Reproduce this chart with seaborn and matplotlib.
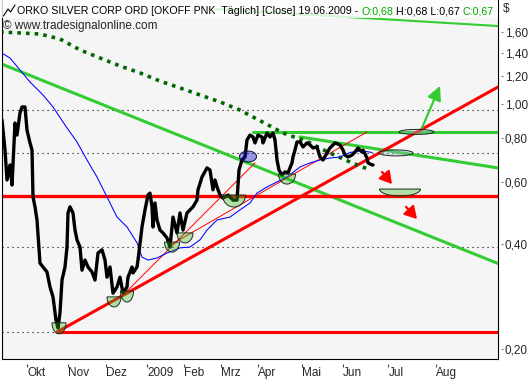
import numpy as np
import matplotlib
matplotlib.use("Agg")
import matplotlib.pyplot as plt
import matplotlib.transforms as mtransforms
from matplotlib.patches import Polygon, Rectangle
from matplotlib.ticker import FixedLocator, NullLocator, NullFormatter
from matplotlib.font_manager import FontProperties
import seaborn as sns

# daily close (chart day index, price in $)
close_day = [0, 1.5, 2.5, 4, 5, 6.5, 7.5, 9, 10, 11.5, 12.5, 14, 15, 15.5, 16.5, 17.5, 19, 20.5,
             22.5, 24, 25.5, 27, 28, 29, 30, 31.5, 32.5, 33, 34, 35.5, 36.5, 37.5, 39, 40, 41.5,
             43, 45, 46.5, 48, 50, 51.5, 52.5, 54, 55.5, 57.5, 59, 60.5, 62.5, 63, 65, 65.5,
             67.5, 68, 70, 71.5, 73, 74, 75, 75.5, 76.5, 77.5, 79, 80.5, 82.5, 84, 85.5, 87.5,
             89, 90.5, 92.5, 94, 95.5, 97.5, 98, 100, 102.5, 104, 105.5, 106.5, 107.5, 109,
             110.5, 113, 115.5, 117.5, 118.5, 120, 121.5, 122.5, 124, 125.5, 126.5, 128, 130,
             130.5, 132.5, 134, 135.5, 136.5, 137.5, 138.5, 140, 141.5, 143, 145, 145.5, 146.5,
             147.5, 149, 150.5, 152.5, 154, 155.5, 157.5, 159, 160.5, 162.5, 164, 166.5, 169,
             170.5, 171.5, 173, 175, 176.5, 178, 180, 180.5, 182.5, 183, 185, 185.5]
close_px = [0.900, 0.739, 0.607, 0.670, 0.587, 0.882, 0.815, 0.942, 0.980, 0.980, 0.842, 0.774,
            0.739, 0.543, 0.509, 0.467, 0.352, 0.343, 0.332, 0.301, 0.282, 0.242, 0.230, 0.254,
            0.315, 0.343, 0.391, 0.489, 0.509, 0.489, 0.437, 0.410, 0.391, 0.336, 0.359, 0.343,
            0.332, 0.315, 0.376, 0.384, 0.359, 0.321, 0.343, 0.289, 0.301, 0.321, 0.289, 0.301,
            0.321, 0.343, 0.330, 0.343, 0.359, 0.446, 0.499, 0.550, 0.557, 0.509, 0.446, 0.522,
            0.467, 0.437, 0.429, 0.415, 0.391, 0.476, 0.429, 0.489, 0.437, 0.489, 0.499, 0.509,
            0.532, 0.569, 0.619, 0.657, 0.648, 0.569, 0.607, 0.580, 0.550, 0.539, 0.550, 0.532,
            0.532, 0.648, 0.692, 0.706, 0.789, 0.815, 0.805, 0.774, 0.815, 0.805, 0.774, 0.826,
            0.805, 0.826, 0.789, 0.692, 0.648, 0.627, 0.640, 0.636, 0.679, 0.706, 0.739, 0.779,
            0.779, 0.754, 0.774, 0.764, 0.749, 0.754, 0.706, 0.692, 0.725, 0.749, 0.774, 0.764,
            0.739, 0.715, 0.706, 0.715, 0.729, 0.749, 0.729, 0.739, 0.701, 0.679, 0.670, 0.670]

# moving average (thin blue)
ma_day = [-1, 4, 9, 14, 20.5, 25.5, 32.5, 37.5, 42.5, 47.5, 52.5, 57.5, 62.5, 67.5, 70, 73, 77.5,
          82.5, 89, 94, 99, 102.5, 107.5, 114, 119, 124, 127.5, 132.5, 142.5, 149, 154, 159, 164,
          169, 174, 179, 182.5, 185]
ma_px = [1.405, 1.351, 1.249, 1.154, 1.060, 0.980, 0.854, 0.779, 0.692, 0.619, 0.543, 0.476,
         0.446, 0.402, 0.366, 0.359, 0.364, 0.376, 0.389, 0.391, 0.410, 0.437, 0.467, 0.476,
         0.499, 0.522, 0.557, 0.580, 0.619, 0.661, 0.679, 0.692, 0.701, 0.706, 0.727, 0.734,
         0.731, 0.727]

# displaced average (dark green dots)
lag_day = [-1, 9, 19, 29, 39, 49, 59, 69, 79, 89, 99, 109, 119, 126.5, 134, 140.5, 149, 154,
           162.5, 170.5, 175, 183]
lag_px = [1.602, 1.592, 1.581, 1.530, 1.424, 1.351, 1.282, 1.225, 1.161, 1.110, 1.060, 1.013,
          0.960, 0.911, 0.865, 0.826, 0.794, 0.774, 0.731, 0.697, 0.679, 0.652]

# trend lines: ([day0, day1], [price0, price1])
top_green = ([106.5, 248], [1.862, 1.666])
long_green = ([-1, 248], [1.304, 0.351])
right_green = ([149, 248], [0.805, 0.657])
flat_green = ([125.5, 248], [0.832, 0.832])
rise_red = ([27.5, 248], [0.224, 1.117])
mid_red = ([0, 248], [0.546, 0.546])
low_red = ([27.5, 248], [0.224, 0.224])
thin_red_a = ([61.5, 126.5], [0.289, 0.679])
thin_red_b = ([84, 182.5], [0.396, 0.832])
dotted_levels = [0.960, 0.723, 0.392]
dotted_low = ([0, 27.5], [0.224, 0.224])

# marked lows (half ellipses), breakout marks, arrows
low_day = [28.5, 56, 62.5, 85, 91.5, 116, 142.5, 199]
low_px = [0.238, 0.282, 0.293, 0.404, 0.429, 0.550, 0.631, 0.572]
blue_mark = (123, 0.708)
flat_day = [207.25, 197]
flat_px = [0.832, 0.725]
green_arrow = ((210, 0.854), (219, 1.125))
red_arrows = [((190, 0.640), (195, 0.591)), ((202, 0.509), (207.5, 0.470))]

month_day = [12.5, 32.8, 52.2, 72.5, 91, 109.6, 128.2, 150.2, 170.5, 193.2, 216.9]
month_lbl = ["Okt", "Nov", "Dez", "2009", "Feb", "Mrz", "Apr", "Mai", "Jun", "Jul", "Aug"]
y_ticks = [0.2, 0.4, 0.6, 0.8, 1.0, 1.2, 1.4, 1.6]
y_lbl = ["0,20", "0,40", "0,60", "0,80", "1,00", "1,20", "1,40", "1,60"]

sns.set_style("white")
plt.rcParams['font.family'] = ['Liberation Sans', 'DejaVu Sans']
FS = 8.5

W, H = 530, 380
fig = plt.figure(figsize=(W / 100, H / 100), dpi=100)
ax = fig.add_axes([2 / W, 20.7 / H, 496 / W, 359.3 / H])
ax.set_facecolor('#f5f5f5')
ax.set_yscale('log')
ax.set_xlim(0, 248)
ax.set_ylim(0.1873, 1.976)

GREEN = '#33cc33'

# horizontal dotted levels
for lv in dotted_levels:
    ax.plot([0, 248], [lv, lv], color='black', lw=0.8, ls=(0, (1, 3.5)), zorder=1)
ax.plot(*dotted_low, color='black', lw=0.8, ls=(0, (1, 3.5)), zorder=1)

# trend lines
ax.plot(*top_green, color=GREEN, lw=1.5, zorder=2)
ax.plot(*long_green, color=GREEN, lw=2.2, zorder=2)
ax.plot(*right_green, color=GREEN, lw=2.2, zorder=2)
ax.plot(*flat_green, color=GREEN, lw=2.2, zorder=2)
ax.plot(*mid_red, color='red', lw=2.4, zorder=2)
ax.plot(*low_red, color='red', lw=2.2, zorder=2)
ax.plot(*rise_red, color='red', lw=2.2, zorder=2)
ax.plot(*thin_red_a, color='red', lw=0.7, zorder=2)
ax.plot(*thin_red_b, color='red', lw=0.7, zorder=2)

# averages and price
ax.plot(lag_day, lag_px, color='#006600', lw=2.6, ls=(0, (1, 1.4)), zorder=2.5)
sns.lineplot(x=ma_day, y=ma_px, ax=ax, color='blue', lw=0.75, estimator=None, zorder=3)
sns.lineplot(x=close_day, y=close_px, ax=ax, color='black', lw=2.4, estimator=None, zorder=3)


def blob(x, y, w, h, half, fc, ec='#1e2a1e'):
    if half:
        t = np.linspace(np.pi, 2 * np.pi, 40)
        pts = np.c_[w / 2 * np.cos(t), h * np.sin(t)]
    else:
        t = np.linspace(0, 2 * np.pi, 80)
        pts = np.c_[w / 2 * np.cos(t), h / 2 * np.sin(t)]
    trans = fig.dpi_scale_trans + mtransforms.ScaledTranslation(x, y, ax.transData)
    p = Polygon(pts / 100.0, closed=True, transform=trans, fc=fc, ec=ec, lw=0.7, zorder=4)
    ax.add_artist(p)


low_size = [(14, 11), (14, 10), (13, 11), (15, 10), (16, 10), (23, 12), (17, 10), (41, 7)]
for d, p, (w, h) in zip(low_day, low_px, low_size):
    blob(d, p, w, h, True, (49 / 255, 186 / 255, 26 / 255, 0.35))
blob(blue_mark[0], blue_mark[1], 17, 11, False, (8 / 255, 8 / 255, 207 / 255, 0.4), ec='#101030')
for d, p, (w, h) in zip(flat_day, flat_px, [(35, 5), (34, 6)]):
    blob(d, p, w, h, False, (150 / 255, 190 / 255, 190 / 255, 0.4))

ax.annotate('', xy=green_arrow[1], xytext=green_arrow[0], zorder=4,
            arrowprops=dict(arrowstyle='-|>,head_width=0.35,head_length=0.7', color=GREEN,
                            lw=1.6, mutation_scale=12, shrinkA=0, shrinkB=0))
for a, b in red_arrows:
    ax.annotate('', xy=b, xytext=a, zorder=4,
                arrowprops=dict(arrowstyle='-|>,head_width=0.35,head_length=0.6', color='red',
                                lw=1.6, mutation_scale=12, shrinkA=0, shrinkB=0))

# header band
ax.add_patch(Rectangle((0, 1 - 18 / 359.3), 1, 18 / 359.3, transform=ax.transAxes,
                       fc='white', ec='none', alpha=0.8, zorder=5))

# axes, ticks
for s in ['left', 'right', 'bottom']:
    ax.spines[s].set_color('black')
    ax.spines[s].set_linewidth(0.8)
ax.spines['top'].set_visible(False)

ax.yaxis.tick_right()
ax.yaxis.set_major_locator(FixedLocator(y_ticks))
ax.yaxis.set_minor_locator(NullLocator())
ax.yaxis.set_minor_formatter(NullFormatter())
ax.set_yticklabels(y_lbl)
ax.tick_params(axis='y', length=0, pad=5, labelsize=FS)
ax.set_xticks(month_day)
ax.set_xticklabels(month_lbl, ha='left')
ax.tick_params(axis='x', length=0, pad=5.5, labelsize=FS)
ax.set_xlabel('')
ax.set_ylabel('')

tx = mtransforms.blended_transform_factory(ax.transData, ax.transAxes)
ax.vlines(month_day, -4.2 / 359.3, -7.7 / 359.3, transform=tx, colors='#444444', lw=0.8,
          clip_on=False)
ty = mtransforms.blended_transform_factory(ax.transAxes, ax.transData)
ax.hlines(y_ticks, 1 + 2.5 / 496, 1 + 5.5 / 496, transform=ty, colors='#777777', lw=0.8,
          clip_on=False)

# title line
pieces = [("ORKO SILVER CORP ORD [OKOFF PNK  Täglich] [Close] 19.06.2009 - ", 'black'),
          ("O:0,68", '#00a800'), (" H:0,68 L:0,67 ", 'black'), ("C:0,67", '#00a800')]
r = fig.canvas.get_renderer()
full = "".join(s for s, _ in pieces)
w0 = r.get_text_width_height_descent(full, FontProperties(size=FS), ismath=False)[0]
tfs = FS * 473 / w0
prop = FontProperties(size=tfs)
xw = r.get_text_width_height_descent("X", prop, ismath=False)[0]
pre = ""
for s, c in pieces:
    off = r.get_text_width_height_descent(pre + "X", prop, ismath=False)[0] - xw if pre else 0
    fig.text((17 + off) / W, 1 - 11 / H, s, color=c, fontsize=tfs, va='center', ha='left',
             zorder=6)
    pre += s

fig.add_artist(plt.Line2D(np.array([3.5, 8, 10.5, 15]) / W, 1 - np.array([16, 9, 12, 5]) / H,
                          color='black', lw=0.8))
fig.text(3 / W, 1 - 25.5 / H, "© www.tradesignalonline.com", fontsize=FS, va='center',
         ha='left', zorder=6)
fig.text(503 / W, 1 - 9 / H, "$", fontsize=FS, va='center', ha='left')

fig.savefig('out.png', dpi=100)
